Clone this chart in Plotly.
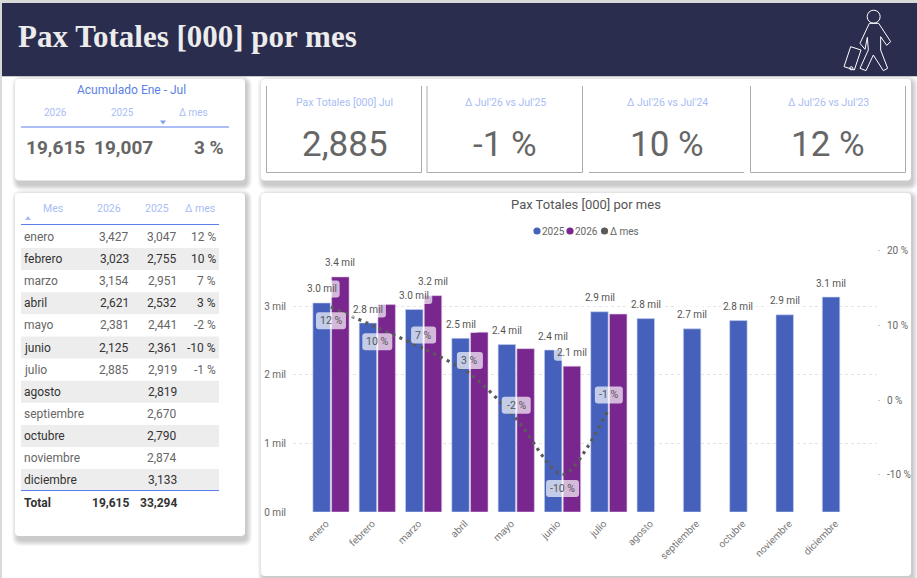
import plotly.graph_objects as go

W, H = 917, 578

# ---------- data ----------
months = ["enero", "febrero", "marzo", "abril", "mayo", "junio", "julio", "agosto",
          "septiembre", "octubre", "noviembre", "diciembre"]
pax_2025 = [3047, 2755, 2951, 2532, 2441, 2361, 2919, 2819, 2670, 2790, 2874, 3133]
pax_2026 = [3427, 3023, 3154, 2621, 2381, 2125, 2885, None, None, None, None, None]
delta_mes = [12.5, 9.7, 6.9, 3.5, -2.5, -10.0, -1.2]
delta_labels = ["12 %", "10 %", "7 %", "3 %", "-2 %", "-10 %", "-1 %"]
table_delta = ["12 %", "10 %", "7 %", "3 %", "-2 %", "-10 %", "-1 %", "", "", "", "", ""]
labels_2025 = ["3.0 mil", "2.8 mil", "3.0 mil", "2.5 mil", "2.4 mil", "2.4 mil", "2.9 mil",
               "2.8 mil", "2.7 mil", "2.8 mil", "2.9 mil", "3.1 mil"]
labels_2026 = ["3.4 mil", "", "3.2 mil", "", "", "2.1 mil", "", "", "", "", "", ""]
y_ticks = [0, 1000, 2000, 3000]
y_tick_text = ["0 mil", "1 mil", "2 mil", "3 mil"]
y2_ticks = [-10, 0, 10, 20]
y2_tick_text = ["-10 %", "0 %", "10 %", "20 %"]
total_2026, total_2025 = "19,615", "33,294"
kpi_titles = ["Pax Totales [000] Jul", "Δ Jul'26 vs Jul'25", "Δ Jul'26 vs Jul'24", "Δ Jul'26 vs Jul'23"]
kpi_values = ["2,885", "-1 %", "10 %", "12 %"]
acum_headers = ["2026", "2025", "Δ mes"]
acum_values = ["19,615", "19,007", "3 %"]

# ---------- style ----------
BLUE, PURPLE, DARK = "#4661BB", "#7A268F", "#5A5A5A"
NAVY = "#2B2D4F"
ACCENT, PALE = "#5B7FE8", "#A9BDF5"
NARROW = "Roboto, sans-serif"
BODY = "Roboto, sans-serif"


def px(x):
    return x / W


def py(y):
    return 1 - y / H


shapes, notes = [], []


def rect(x0, y0, x1, y1, fill, r=0, layer="below"):
    X0, X1, Y0, Y1 = px(x0), px(x1), py(y0), py(y1)
    if r == 0:
        shapes.append(dict(type="rect", xref="paper", yref="paper", x0=X0, x1=X1, y0=Y0, y1=Y1,
                           fillcolor=fill, line_width=0, layer=layer))
    else:
        rx, ry = r / W, r / H
        p = (f"M{X0+rx},{Y0} L{X1-rx},{Y0} Q{X1},{Y0} {X1},{Y0-ry} L{X1},{Y1+ry} Q{X1},{Y1} {X1-rx},{Y1} "
             f"L{X0+rx},{Y1} Q{X0},{Y1} {X0},{Y1+ry} L{X0},{Y0-ry} Q{X0},{Y0} {X0+rx},{Y0} Z")
        shapes.append(dict(type="path", xref="paper", yref="paper", path=p, fillcolor=fill,
                           line_width=0, layer=layer))


def card(x0, y0, x1, y1):
    for i in range(6, 0, -1):
        rect(x0 - i + 3, y0 - i + 3, x1 + i + 1, y1 + i + 4, "rgba(0,0,0,0.035)", 4 + i)
    rect(x0, y0, x1, y1, "#FFFFFF", 4)


def hline(x0, x1, y, color, w=1):
    shapes.append(dict(type="line", xref="paper", yref="paper", x0=px(x0), x1=px(x1), y0=py(y), y1=py(y),
                       line=dict(color=color, width=w), layer="below"))


def vline(x, y0, y1, color, w=1):
    shapes.append(dict(type="line", xref="paper", yref="paper", x0=px(x), x1=px(x), y0=py(y0), y1=py(y1),
                       line=dict(color=color, width=w), layer="below"))


def text(x, y, s, size, color, anchor="center", family=NARROW, bold=False):
    notes.append(dict(xref="paper", yref="paper", x=px(x), y=py(y), text=f"<b>{s}</b>" if bold else s,
                      showarrow=False, xanchor=anchor, yanchor="middle", borderpad=0, borderwidth=0,
                      font=dict(size=size, color=color, family=family)))


def tri(x, y, w, h, fill, up=False):
    d = -h if up else h
    p = f"M{px(x-w/2)},{py(y)} L{px(x+w/2)},{py(y)} L{px(x)},{py(y+d)} Z"
    shapes.append(dict(type="path", xref="paper", yref="paper", path=p, fillcolor=fill, line_width=0, layer="below"))


def poly(points, closed=False):
    p = "M" + " L".join(f"{px(a)},{py(b)}" for a, b in points) + (" Z" if closed else "")
    shapes.append(dict(type="path", xref="paper", yref="paper", path=p, line=dict(color="#FFFFFF", width=1),
                       fillcolor="rgba(0,0,0,0)", layer="below"))


def circle(cx, cy, r, fill=None, line=None):
    shapes.append(dict(type="circle", xref="paper", yref="paper", x0=px(cx-r), x1=px(cx+r), y0=py(cy+r), y1=py(cy-r),
                       fillcolor=fill or "rgba(0,0,0,0)", line=dict(color=line or "rgba(0,0,0,0)", width=1 if line else 0),
                       layer="below"))


# ---------- page ----------
rect(0, 0, W, 3, "#D9D9D9")
rect(0, 0, 2, H, "#D9D9D9")
rect(2, 3, W, 76, NAVY)
hline(2, W, 76.5, "#C9C9C9", 1)
text(18, 37, "Pax Totales [000] por mes", 31, "#ECECEC", "left", "Liberation Serif", True)

# traveller icon
z = lambda a, b: (460 + a / 3, b / 3)
circle(*z(1241, 50), 6.5, line="#FFFFFF")
poly([z(*q) for q in [(1228, 70), (1256, 70), (1292, 125), (1280, 136), (1262, 110), (1262, 150), (1283, 205),
                      (1270, 212), (1240, 165), (1218, 212), (1200, 205), (1225, 150), (1222, 112), (1215, 148),
                      (1200, 130)]], True)
poly([z(*q) for q in [(1172, 140), (1203, 150), (1183, 210), (1152, 200)]], True)
circle(*z(1174, 205), 1.6, line="#FFFFFF")

# cards
card(15, 79, 245, 180.5)
card(261, 79, 911, 180.5)
card(15, 193, 245, 536)
card(261, 193, 911, 576)

# accumulated card
text(131, 90, "Acumulado Ene - Jul", 12, ACCENT)
for xc, s in zip([55, 122.5, 193], acum_headers):
    text(xc, 112.5, s, 10, PALE)
tri(163, 120.5, 6, 4, "#7F9FF0")
hline(21, 229, 127, ACCENT, 1)
text(55, 147, acum_values[0], 19, "#666666", bold=True)
text(123, 147, acum_values[1], 19, "#666666", bold=True)
text(224, 147, acum_values[2], 19, "#666666", "right", bold=True)

# KPI boxes
for a, b in [(266.5, 421.5), (427, 582.5), (750.5, 905.5)]:
    vline(a, 86, 172.5, "#ABABAB")
    vline(b, 86, 172.5, "#ABABAB")
for a, b in [(266.5, 421.5), (427, 582.5), (589, 744), (750.5, 905.5)]:
    hline(a, b, 172.5, "#ABABAB")
for xc, t, v in zip([344.5, 505, 667, 828], kpi_titles, kpi_values):
    text(xc, 103, t, 10.5, PALE)
    text(xc, 144, v, 35, "#666666")

# table card
for xc, s in zip([53, 109, 156.7, 200], ["Mes", "2026", "2025", "Δ mes"]):
    text(xc, 208.5, s, 10.5, PALE)
tri(28, 220, 6, 4, PALE, up=True)
hline(21, 219, 224.5, ACCENT, 1)
row_step = 22.1
for i, m in enumerate(months):
    yc = 237 + i * row_step
    alt = i % 2 == 1
    if alt:
        rect(21, yc - 11, 219, yc + 11, "#EDEDED")
    col = "#333333" if alt else "#666666"
    text(24, yc, m, 12, col, "left", BODY)
    if pax_2026[i] is not None:
        text(128.5, yc, f"{pax_2026[i]:,}", 12, col, "right", BODY)
    text(176.5, yc, f"{pax_2025[i]:,}", 12, col, "right", BODY)
    if table_delta[i]:
        text(215.5, yc, table_delta[i], 12, col, "right", BODY)
hline(21, 219, 490.5, ACCENT, 1)
text(24, 502.5, "Total", 12, "#333333", "left", BODY, True)
text(128.5, 502.5, total_2026, 12, "#333333", "right", BODY, True)
text(176.5, 502.5, total_2025, 12, "#333333", "right", BODY, True)

# chart title and legend
text(586, 204, "Pax Totales [000] por mes", 13, "#555555")
for cx, col, s in zip([537, 570, 604.5], [BLUE, PURPLE, DARK], ["2025", "2026", "Δ mes"]):
    circle(cx, 231, 3.6, fill=col)
    text(cx + 5, 231, s, 10, "#666666", "left")

# ---------- chart ----------
xs = list(range(len(months)))
BAR_DX = 9.35


def rounded_box(xa, ya, yref, xc, yc, w, h, r=3):
    """Rounded label backdrop, sized in pixels and anchored on a data position."""
    x0, x1, y0, y1 = xc - w / 2, xc + w / 2, yc - h / 2, yc + h / 2
    p = (f"M{x0+r},{y0} L{x1-r},{y0} Q{x1},{y0} {x1},{y0+r} L{x1},{y1-r} Q{x1},{y1} {x1-r},{y1} "
         f"L{x0+r},{y1} Q{x0},{y1} {x0},{y1-r} L{x0},{y0+r} Q{x0},{y0} {x0+r},{y0} Z")
    shapes.append(dict(type="path", xref="x", yref=yref, xsizemode="pixel", ysizemode="pixel",
                       xanchor=xa, yanchor=ya, path=p, fillcolor="rgba(255,255,255,0.68)",
                       line_width=0, layer="above"))


def data_note(xa, ya, yref, s, dx, dy, size=10):
    notes.append(dict(xref="x", yref=yref, x=xa, y=ya, text=s, showarrow=False, xanchor="center",
                      yanchor="middle", xshift=dx, yshift=dy, font=dict(size=size, color="#555555", family=NARROW)))


for i, s in enumerate(labels_2025):
    if s:
        rounded_box(i, pax_2025[i], "y", -BAR_DX, 14, 36, 17)
        data_note(i, pax_2025[i], "y", s, -BAR_DX, 14)
for i, s in enumerate(labels_2026):
    if s:
        rounded_box(i, pax_2026[i], "y", BAR_DX, 14, 36, 17)
        data_note(i, pax_2026[i], "y", s, BAR_DX, 14)

delta_offsets = [-14, -14, 13.5, 13.5, 13.5, -14, 14]
delta_widths = [30, 30, 25, 26, 29, 33, 28]
for i, s in enumerate(delta_labels):
    rounded_box(i, delta_mes[i], "y2", 0, delta_offsets[i], delta_widths[i], 17)
    data_note(i, delta_mes[i], "y2", s, 0, delta_offsets[i], 10.5)

fig = go.Figure()
fig.add_bar(x=xs, y=pax_2025, name="2025", marker=dict(color=BLUE, line=dict(color="#C9D3EE", width=0.6)))
fig.add_bar(x=xs, y=pax_2026, name="2026", marker=dict(color=PURPLE, line=dict(color="#DCC6E3", width=0.6)))
fig.add_scatter(x=xs[:len(delta_mes)], y=delta_mes, name="Δ mes", yaxis="y2", mode="lines",
                line=dict(color=DARK, width=3.2, dash="3px,4.5px", shape="spline", smoothing=0.8))

axis_font = dict(size=10, color="#666666", family=NARROW)
fig.update_layout(
    width=W, height=H, autosize=False, margin=dict(l=0, r=0, t=0, b=0, pad=0, autoexpand=False),
    paper_bgcolor="#FFFFFF", plot_bgcolor="rgba(0,0,0,0)", showlegend=False,
    barmode="group", bargap=0.19, bargroupgap=0.07,
    shapes=shapes, annotations=notes,
    xaxis=dict(domain=[px(293), px(877)], range=[-0.82, 11.79], tickmode="array", tickvals=xs, ticktext=months,
               tickangle=-45, tickfont=dict(size=10, color="#777777", family=NARROW), showgrid=False,
               zeroline=False, showline=False, ticks="", ticklabelshift=-5, ticklabelstandoff=3),
    yaxis=dict(domain=[py(512), py(245)], range=[0, 3892], tickmode="array", tickvals=y_ticks, ticktext=y_tick_text,
               tickfont=axis_font, showgrid=True, gridcolor="#E4E4E4", griddash="dot", gridwidth=1,
               zeroline=False, showline=False, ticks="", ticklabelstandoff=6),
    yaxis2=dict(overlaying="y", side="right", anchor="x", range=[-15.03, 20.8], tickmode="array", tickvals=y2_ticks,
                ticktext=y2_tick_text, tickfont=axis_font, showgrid=False, zeroline=False, showline=False,
                ticks="outside", ticklen=2, tickcolor="#CCCCCC", ticklabelstandoff=5),
)

fig.write_html("out.html", config=dict(displayModeBar=False),
               post_script="document.body.style.margin='0';document.body.style.overflow='hidden';")
